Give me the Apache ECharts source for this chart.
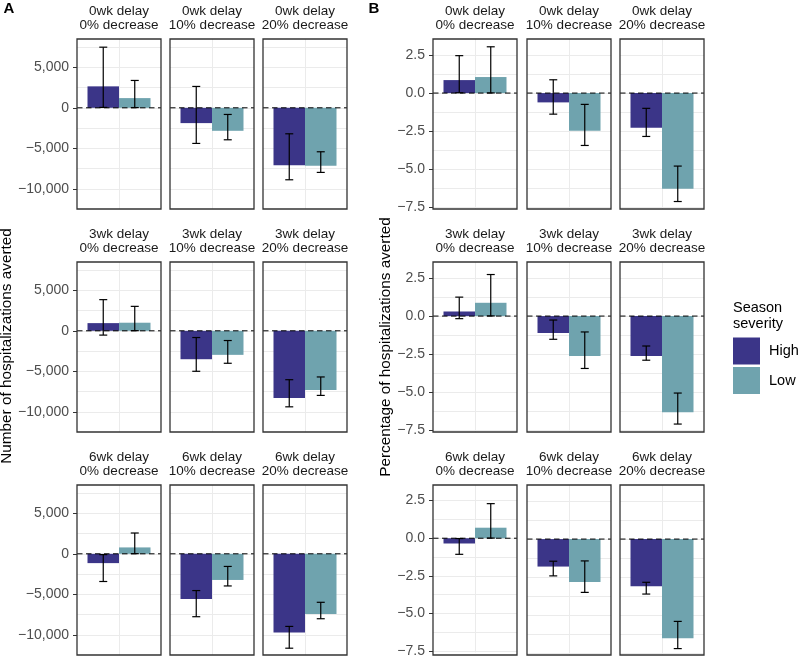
<!DOCTYPE html>
<html><head><meta charset="utf-8">
<script src="https://cdn.jsdelivr.net/npm/echarts@6/dist/echarts.min.js"></script>
<style>html,body{margin:0;padding:0;background:#fff}#c{width:800px;height:658px}</style>
</head><body><div id="c"></div><script>
// ---------- data ----------
const delays = ['0wk delay', '3wk delay', '6wk delay'];
const decreases = ['0% decrease', '10% decrease', '20% decrease'];
const severities = ['High', 'Low'];

// Panel A: number of hospitalizations averted (rows = delay, cols = decrease)
const numHigh   = [[2650, -1890, -7110], [950, -3510, -8310], [-1150, -5580, -9720]];
const numHighLo = [[50, -4400, -8890], [-530, -5000, -9390], [-3420, -7770, -11660]];
const numHighHi = [[7490, 2640, -3210], [3850, -830, -6040], [-100, -4540, -8970]];
const numLow    = [[1200, -2840, -7160], [1000, -2970, -7320], [790, -3230, -7440]];
const numLowLo  = [[30, -3950, -7980], [20, -4010, -7980], [20, -3970, -8020]];
const numLowHi  = [[3380, -820, -5430], [3020, -1200, -5700], [2570, -1560, -5990]];

// Panel B: percentage of hospitalizations averted
const pctHigh   = [[0.85, -0.61, -2.27], [0.30, -1.11, -2.61], [-0.35, -1.80, -3.09]];
const pctHighLo = [[0.02, -1.38, -2.84], [-0.17, -1.52, -2.89], [-1.07, -2.41, -3.60]];
const pctHighHi = [[2.45, 0.87, -1.00], [1.24, -0.26, -1.96], [-0.02, -1.45, -2.83]];
const pctLow    = [[1.05, -2.47, -6.27], [0.87, -2.61, -6.30], [0.70, -2.81, -6.49]];
const pctLowLo  = [[0.01, -3.43, -7.10], [0.01, -3.43, -7.07], [0.01, -3.49, -7.17]];
const pctLowHi  = [[3.03, -0.74, -4.78], [2.72, -1.04, -5.04], [2.30, -1.43, -5.39]];

// axis settings
const numRange = [-12500, 8500];
const numTicks = [-10000, -5000, 0, 5000];
const numGridLines = [-10000, -7500, -5000, -2500, 0, 2500, 5000, 7500];
const pctRange = [-7.59, 3.54];
const pctTicks = [-7.5, -5, -2.5, 0, 2.5];
const pctGridLines = [-7.5, -6.25, -5, -3.75, -2.5, -1.25, 0, 1.25, 2.5];

// ---------- layout ----------
const FONT = '"Liberation Sans", Arial, Helvetica, sans-serif';
const colors = ['#3B3588', '#6FA3AE'];
const PW = 84, PH = 170;
const rowTops = [39, 262, 485];
const fmtNum = v => (v < 0 ? '\u2212' : '') + Math.abs(v).toLocaleString('en-US');
const fmtPct = v => (v < 0 ? '\u2212' : '') + Math.abs(v).toFixed(1);

const panels = [
  {cols: [77, 170, 263], vals: [numHigh, numLow], lo: [numHighLo, numLowLo], hi: [numHighHi, numLowHi],
   range: numRange, gl: numGridLines, ticks: numTicks, fmt: fmtNum},
  {cols: [433, 527, 620], vals: [pctHigh, pctLow], lo: [pctHighLo, pctLowLo], hi: [pctHighHi, pctLowHi],
   range: pctRange, gl: pctGridLines, ticks: pctTicks, fmt: fmtPct}
];

function renderItem(params, api) {
  const xc = api.value(0), v = api.value(1), lo = api.value(2), hi = api.value(3);
  const a = api.coord([xc - 0.225, 0]), b = api.coord([xc + 0.225, v]);
  const t = api.coord([xc, hi]), u = api.coord([xc, lo]);
  const cap = 4;
  const ls = {stroke: '#000', lineWidth: 1.2};
  return {type: 'group', children: [
    {type: 'rect', shape: {x: a[0], y: Math.min(a[1], b[1]), width: b[0] - a[0], height: Math.abs(b[1] - a[1])},
     style: {fill: api.visual('color')}},
    {type: 'line', shape: {x1: t[0], y1: t[1], x2: u[0], y2: u[1]}, style: ls},
    {type: 'line', shape: {x1: t[0] - cap, y1: t[1], x2: t[0] + cap, y2: t[1]}, style: ls},
    {type: 'line', shape: {x1: u[0] - cap, y1: u[1], x2: u[0] + cap, y2: u[1]}, style: ls}
  ]};
}

const grids = [], xAxes = [], yAxes = [], series = [], graphics = [];
function txt(x, y, text, font, fill, extra) {
  return Object.assign({type: 'text', x: x, y: y, silent: true,
    style: {text: text, font: font, fill: fill, align: 'center', verticalAlign: 'middle',
            textAlign: 'center', textVerticalAlign: 'middle'}}, extra || {});
}

let g = 0;
panels.forEach(P => {
  for (let r = 0; r < 3; r++) {
    for (let c = 0; c < 3; c++) {
      const left = P.cols[c], top = rowTops[r];
      grids.push({left: left, top: top, width: PW, height: PH, show: false});
      xAxes.push({type: 'value', gridIndex: g, min: 0, max: 1.2,
                  axisLine: {show: false}, axisTick: {show: false, customValues: [0.6]}, axisLabel: {show: false},
                  splitLine: {show: true, lineStyle: {color: '#EBEBEB', width: 1}}});
      const yi = yAxes.length;
      yAxes.push({type: 'value', gridIndex: g, min: P.range[0], max: P.range[1],
                  axisLine: {show: false}, axisTick: {show: false, customValues: P.gl},
                  axisLabel: {show: false},
                  splitLine: {show: true, lineStyle: {color: '#EBEBEB', width: 1}}});
      if (c === 0) {
        yAxes.push({type: 'value', gridIndex: g, position: 'left', min: P.range[0], max: P.range[1],
                    axisLine: {show: false},
                    axisTick: {show: true, length: 4, customValues: P.ticks, lineStyle: {color: '#333333', width: 1}},
                    axisLabel: {show: true, customValues: P.ticks, formatter: P.fmt, margin: 8,
                                fontSize: 14, color: '#4D4D4D', fontFamily: FONT},
                    splitLine: {show: false}});
      }
      severities.forEach((s, k) => {
        series.push({type: 'custom', name: s, xAxisIndex: g, yAxisIndex: yi,
                     itemStyle: {color: colors[k]}, encode: {x: 0, y: [1, 2, 3]},
                     data: [[0.375 + 0.45 * k, P.vals[k][r][c], P.lo[k][r][c], P.hi[k][r][c]]],
                     renderItem: renderItem, z: 2, silent: true});
      });
      series.push({type: 'line', xAxisIndex: g, yAxisIndex: yi, data: [[0, 0], [1.2, 0]],
                   symbol: 'none', silent: true, z: 3,
                   lineStyle: {color: '#000', width: 1, type: [5.5, 3.5]}});
      // panel border
      graphics.push({type: 'rect', silent: true, z: 100,
                     shape: {x: left, y: top, width: PW, height: PH},
                     style: {fill: 'none', stroke: '#333333', lineWidth: 1.3}});
      const cx = left + PW / 2;
      graphics.push(txt(cx, top - 27.5, delays[r], '13.5px ' + FONT, '#1A1A1A'));
      graphics.push(txt(cx, top - 14, decreases[c], '13.5px ' + FONT, '#1A1A1A'));
      g++;
    }
  }
});

graphics.push(txt(9, 8.5, 'A', 'bold 15px ' + FONT, '#000'));
graphics.push(txt(374, 8.5, 'B', 'bold 15px ' + FONT, '#000'));
graphics.push(txt(7, 346, 'Number of hospitalizations averted', '15.3px ' + FONT, '#000', {rotation: Math.PI / 2}));
graphics.push(txt(386, 347, 'Percentage of hospitalizations averted', '15.3px ' + FONT, '#000', {rotation: Math.PI / 2}));
graphics.push({type: 'text', x: 733, y: 308, silent: true,
  style: {text: 'Season', font: '14.5px ' + FONT, fill: '#000', verticalAlign: 'middle', textVerticalAlign: 'middle'}});
graphics.push({type: 'text', x: 733, y: 324, silent: true,
  style: {text: 'severity', font: '14.5px ' + FONT, fill: '#000', verticalAlign: 'middle', textVerticalAlign: 'middle'}});

const chart = echarts.init(document.getElementById('c'));
chart.setOption({
  animation: false,
  backgroundColor: '#fff',
  grid: grids, xAxis: xAxes, yAxis: yAxes, series: series,
  legend: {data: severities, orient: 'vertical', left: 733, top: 337.5, padding: 0,
           icon: 'rect', itemWidth: 27, itemHeight: 27, itemGap: 2.5, selectedMode: false,
           textStyle: {fontSize: 14.5, color: '#000', fontFamily: FONT, padding: [0, 0, 0, 4]}},
  graphic: graphics
});
</script></body></html>
